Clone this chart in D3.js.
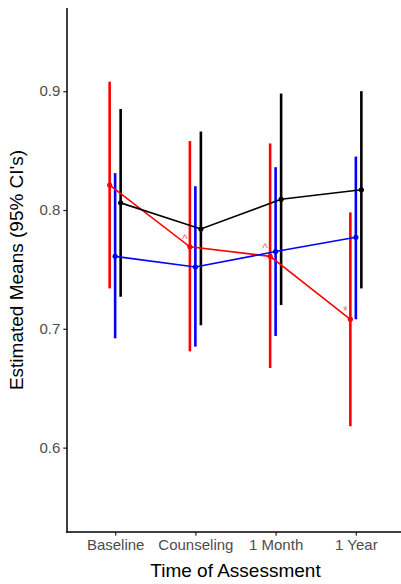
<!DOCTYPE html>
<html>
<head>
<meta charset="utf-8">
<script src="https://cdn.jsdelivr.net/npm/d3@7/dist/d3.min.js"></script>
<style>
  html, body { margin: 0; padding: 0; background: #fff; }
  svg { display: block; }
</style>
</head>
<body>
<svg id="chart" width="401" height="584"></svg>
<script>
// ---- data ----
const categories = ["Baseline", "Counseling", "1 Month", "1 Year"];
const seriesNames = ["red", "blue", "black"];

const redMean  = [0.821, 0.769, 0.761, 0.708];
const redLow   = [0.734, 0.681, 0.667, 0.618];
const redHigh  = [0.908, 0.858, 0.856, 0.798];

const blueMean = [0.761, 0.752, 0.765, 0.777];
const blueLow  = [0.692, 0.685, 0.694, 0.708];
const blueHigh = [0.831, 0.820, 0.836, 0.845];

const blackMean = [0.806, 0.784, 0.809, 0.817];
const blackLow  = [0.727, 0.703, 0.720, 0.734];
const blackHigh = [0.885, 0.866, 0.898, 0.900];

const redMarks = ["", "^", "^", "*"];

const yTicks = [0.6, 0.7, 0.8, 0.9];

// ---- build series table ----
const seriesColors = { red: "#ff0000", blue: "#0000ff", black: "#000000" };
const series = [
  { name: "red",   mean: redMean,   low: redLow,   high: redHigh },
  { name: "blue",  mean: blueMean,  low: blueLow,  high: blueHigh },
  { name: "black", mean: blackMean, low: blackLow, high: blackHigh }
];

const svg = d3.select("#chart");
const panel = { left: 67, right: 404, top: 8, bottom: 532 };

const x = d3.scalePoint().domain(categories).range([panel.left, panel.right]).padding(0.6);
const dodge = d3.scalePoint().domain(seriesNames).range([-5.5, 5.5]);
const y = d3.scaleLinear().domain([0.529, 0.970]).range([panel.bottom, panel.top]);

const px = (s, i) => x(categories[i]) + dodge(s.name);

const g = svg.append("g");

// error bars
series.forEach(s => {
  g.append("g").selectAll("line")
    .data(categories)
    .join("line")
    .attr("x1", (d, i) => px(s, i))
    .attr("x2", (d, i) => px(s, i))
    .attr("y1", (d, i) => y(s.low[i]))
    .attr("y2", (d, i) => y(s.high[i]))
    .attr("stroke", seriesColors[s.name])
    .attr("stroke-width", 2.6);
});

// lines + points
const line = d3.line();
series.forEach(s => {
  g.append("path")
    .attr("d", line(categories.map((c, i) => [px(s, i), y(s.mean[i])])))
    .attr("fill", "none")
    .attr("stroke", seriesColors[s.name])
    .attr("stroke-width", 1.6);
  g.append("g").selectAll("circle")
    .data(categories)
    .join("circle")
    .attr("cx", (d, i) => px(s, i))
    .attr("cy", (d, i) => y(s.mean[i]))
    .attr("r", 2.6)
    .attr("fill", seriesColors[s.name]);
});

// significance marks for the red series
const redS = series[0];
g.append("g").selectAll("text")
  .data(redMarks)
  .join("text")
  .attr("x", (d, i) => px(redS, i) - 5)
  .attr("y", (d, i) => y(redS.mean[i]) - 4)
  .attr("text-anchor", "middle")
  .attr("font-family", "Liberation Sans, Arial, sans-serif")
  .attr("font-size", 12)
  .attr("fill", "#f06a6a")
  .text(d => d);

// ---- axes ----
const xAxis = d3.axisBottom(x).tickSize(3.7).tickPadding(4);
const yAxis = d3.axisLeft(y).tickValues(yTicks).tickFormat(d3.format(".1f")).tickSize(3.7).tickPadding(3);

const gx = svg.append("g").attr("transform", `translate(0,${panel.bottom})`).call(xAxis);
const gy = svg.append("g").attr("transform", `translate(${panel.left},0)`).call(yAxis);

[gx, gy].forEach(a => {
  a.select(".domain").remove();
  a.selectAll(".tick line").attr("stroke", "#333333").attr("stroke-width", 1.3);
  a.selectAll(".tick text")
    .attr("fill", "#4d4d4d")
    .attr("font-family", "Liberation Sans, Arial, sans-serif")
    .attr("font-size", 15);
});

// axis lines
svg.append("line")
  .attr("x1", panel.left).attr("x2", panel.left)
  .attr("y1", panel.top).attr("y2", panel.bottom + 0.7)
  .attr("stroke", "#000").attr("stroke-width", 1.5);
svg.append("line")
  .attr("x1", panel.left - 0.7).attr("x2", panel.right)
  .attr("y1", panel.bottom).attr("y2", panel.bottom)
  .attr("stroke", "#000").attr("stroke-width", 1.5);

// titles
svg.append("text")
  .attr("x", (panel.left + panel.right) / 2)
  .attr("y", 577)
  .attr("text-anchor", "middle")
  .attr("font-family", "Liberation Sans, Arial, sans-serif")
  .attr("font-size", 19)
  .attr("fill", "#000")
  .text("Time of Assessment");

svg.append("text")
  .attr("transform", `translate(23,${(panel.top + panel.bottom) / 2}) rotate(-90)`)
  .attr("text-anchor", "middle")
  .attr("font-family", "Liberation Sans, Arial, sans-serif")
  .attr("font-size", 19)
  .attr("fill", "#000")
  .text("Estimated Means (95% CI's)");
</script>
</body>
</html>
